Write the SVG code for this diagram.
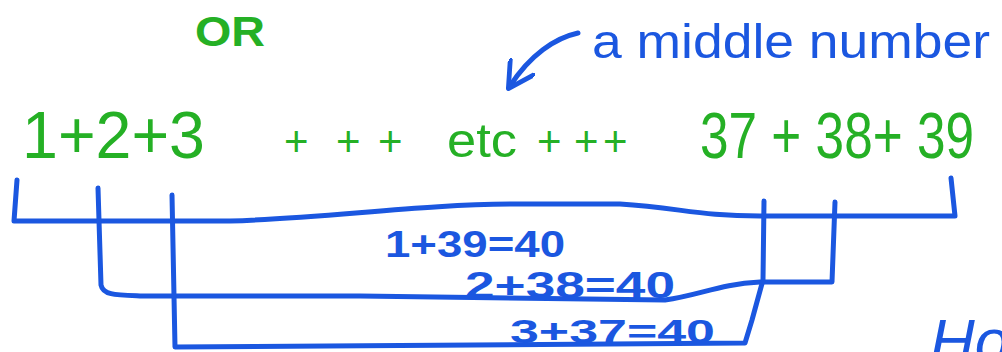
<svg xmlns="http://www.w3.org/2000/svg" width="1002" height="352" viewBox="0 0 1002 352">
<style>
.g{fill:#25b025;font-family:"Liberation Sans",Arial,sans-serif}
.b{fill:#1b57e0;font-family:"Liberation Sans",Arial,sans-serif}
.ln{fill:none;stroke:#1b57e0;stroke-width:5;stroke-linecap:round;stroke-linejoin:round}
</style>
<defs>
<marker id="ah" viewBox="0 0 10 10" refX="8" refY="5" markerWidth="6" markerHeight="6" orient="auto" markerUnits="strokeWidth">
<path d="M0,0 L9,5 L0,10" fill="none" stroke="#1b57e0" stroke-width="1.6" stroke-linecap="round" stroke-linejoin="round"/>
</marker>
</defs>
<rect width="1002" height="352" fill="#ffffff"/>
<g id="or"><text class="g" x="195" y="46" font-size="42" font-weight="bold" textLength="70" lengthAdjust="spacingAndGlyphs">OR</text></g>
<g id="left-terms"><text class="g" x="22" y="158" font-size="66" textLength="183" lengthAdjust="spacingAndGlyphs">1+2+3</text></g>
<g id="middle-terms">
<text class="g" x="284" y="156" font-size="42">+</text>
<text class="g" x="336" y="156" font-size="42">+</text>
<text class="g" x="378" y="156" font-size="42">+</text>
<text class="g" x="447" y="157" font-size="48" textLength="70" lengthAdjust="spacingAndGlyphs">etc</text>
<text class="g" x="537" y="156" font-size="42">+</text>
<text class="g" x="574" y="156" font-size="42">+</text>
<text class="g" x="603" y="156" font-size="42">+</text>
</g>
<g id="right-terms"><text class="g" x="700" y="158" font-size="64" textLength="274" lengthAdjust="spacingAndGlyphs">37 + 38+ 39</text></g>
<g id="note"><text class="b" x="592" y="58" font-size="48" textLength="398" lengthAdjust="spacingAndGlyphs">a middle number</text></g>
<g id="sum1"><text class="b" x="385" y="257" font-size="36" font-weight="bold" textLength="180" lengthAdjust="spacingAndGlyphs">1+39=40</text></g>
<g id="sum2"><text class="b" x="465" y="298" font-size="36" font-weight="bold" textLength="210" lengthAdjust="spacingAndGlyphs">2+38=40</text></g>
<g id="sum3"><text class="b" x="510" y="343" font-size="34" font-weight="bold" textLength="205" lengthAdjust="spacingAndGlyphs">3+37=40</text></g>
<g id="how"><text class="b" x="930" y="362" font-size="62" font-style="italic">How</text></g>
<g id="connectors">
<path class="ln" d="M578,33 C555,38 530,55 510,86" marker-end="url(#ah)"/>
<path class="ln" d="M17,180 L14,221 L230,221 C330,218 420,204 520,204 L620,204 C680,208 700,216 760,216 L955,216 L951,178"/>
<path class="ln" d="M98,188 L101,285 C103,295 115,295 140,296 L360,296 L665,300 C700,295 720,284 760,282 L832,282 L835,202"/>
<path class="ln" d="M172,195 L175,347 L745,343 L752,320 L763,280 L764,201"/>
</g>
</svg>
